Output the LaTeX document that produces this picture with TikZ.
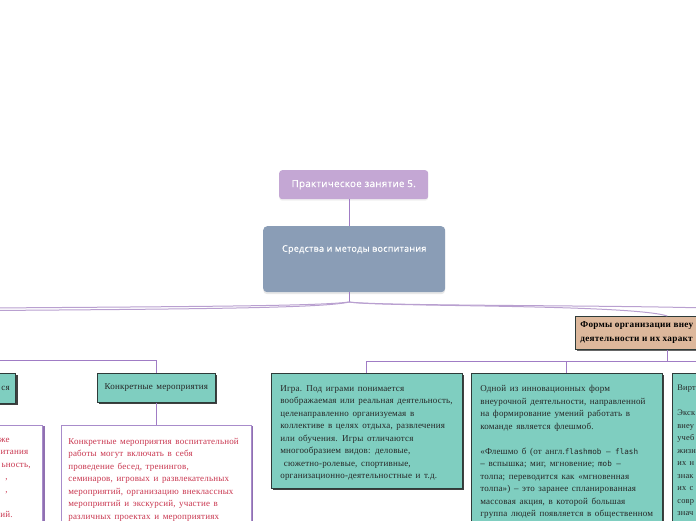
\documentclass[tikz,border=0pt]{standalone}
\usepackage{fontspec}
\setmainfont{Liberation Serif}
\newfontfamily\boxfont[LetterSpace=2,WordSpace=1.5]{Liberation Serif}
\newfontfamily\headfont[LetterSpace=3,FakeBold=0.4]{Open Sans}
\newfontfamily\formsfont[LetterSpace=3]{Liberation Serif}
\newfontfamily\latinfont{DejaVu Sans Mono}
\usetikzlibrary{shadows,calc}
\definecolor{lilac}{HTML}{C4A7D4}
\definecolor{slate}{HTML}{8A9DB6}
\definecolor{tealfill}{HTML}{7FCEC0}
\definecolor{tealline}{HTML}{2E3B39}
\definecolor{tanfill}{HTML}{DDB89C}
\definecolor{wireline}{HTML}{A07CC5}
\definecolor{curveline}{HTML}{B9A0D0}
\definecolor{boxline}{HTML}{A88CCB}
\definecolor{crimson}{HTML}{C9364F}
\tikzset{
  lilacbox/.style={fill=lilac, rounded corners=3pt, text=white, inner sep=0pt,
    font=\headfont\fontsize{9.8}{11}\selectfont,
    drop shadow={opacity=0.12, shadow xshift=0pt, shadow yshift=-1.5pt}},
  slatebox/.style={fill=slate, rounded corners=4pt, text=white, inner sep=0pt,
    font=\headfont\fontsize{9}{11}\selectfont,
    drop shadow={opacity=0.18, shadow xshift=0pt, shadow yshift=-2pt}},
  tealbox/.style={fill=tealfill, draw=tealline, line width=0.7pt, inner sep=0pt,
    font=\boxfont\fontsize{9}{12.5}\selectfont, text=black!85,
    drop shadow={fill=black, opacity=0.75, shadow xshift=2pt, shadow yshift=-2pt}},
  formsbox/.style={fill=tanfill, draw=tealline, line width=0.7pt, inner sep=0pt,
    font=\formsfont\bfseries\fontsize{9.2}{14}\selectfont, text=black,
    drop shadow={fill=black, opacity=0.6, shadow xshift=2pt, shadow yshift=-2pt}},
  whitebox/.style={fill=white, draw=boxline, line width=0.7pt, inner sep=0pt,
    font=\boxfont\fontsize{9}{12.5}\selectfont, text=crimson,
    drop shadow={fill=wireline!90!black, opacity=1, shadow xshift=2pt, shadow yshift=-1pt}},
  wire/.style={draw=wireline, line width=0.8pt},
  bigcurve/.style={draw=curveline, line width=1pt},
}
\newcommand{\latinbit}[1]{{\latinfont\fontsize{7.6}{12.5}\selectfont #1}}
\begin{document}
\begin{tikzpicture}[x=1pt,y=-1pt]
\useasboundingbox (0,0) rectangle (696,520);

% central nodes
\node[lilacbox, anchor=north west, minimum width=149pt, minimum height=29pt] (top) at (279,170) {Практическое занятие 5.};
\node[slatebox, anchor=north west] (mid) at (263,226)
  {\parbox[c][66pt][t]{182pt}{\centering\vspace*{19pt}Средства и методы воспитания}};
\coordinate (hub) at (349,302);
\draw[wire] (hub |- top.south) -- (hub |- mid.north);
\draw[wire] (hub |- mid.south) -- (hub);

% forms node
\node[formsbox, anchor=north west] (forms) at (575,316)
  {\parbox[c][33pt][t]{184pt}{\vspace*{5pt}\hspace*{5pt}Формы организации внеу\\\hspace*{5pt}деятельности и их характ}};

% big curves
\coordinate (offleftA) at (-10,308);
\coordinate (offleftB) at (-10,310.5);
\coordinate (offright) at (706,308);
\draw[bigcurve] (hub) .. controls (320,306) and (200,306.5) .. (offleftA);
\draw[bigcurve] (hub) .. controls (325,308) and (200,309) .. (offleftB);
\draw[bigcurve] (hub) .. controls (380,306) and (600,305) .. (offright);
\draw[bigcurve] (hub) .. controls (380,307) and (630,304) .. (forms.north);

% left branch
\node[tealbox, anchor=north east, minimum height=30pt, text width=80pt, align=right] (sya) at (16,373) {ся\kern6pt};
\node[tealbox, anchor=north west, minimum width=118pt, minimum height=29pt] (konkr) at (97,373) {Конкретные мероприятия};
\coordinate (offbusleft) at (-10,360.5);
\draw[wire] (offbusleft) -| (konkr.north);

\node[whitebox, anchor=north east] (wleft) at (43,425)
  {\parbox[c][120pt][t]{180pt}{\raggedleft\vspace*{12.5pt}%
   же\kern33pt\\
   итания\kern14.5pt\\
   ьность,\kern12pt\\
   ,\kern35pt\\
   ,\kern35pt\\
   \mbox{}\\
   ий.\kern30pt}};
\node[whitebox, anchor=north west] (wmid) at (61,425)
  {\parbox[c][120pt][t]{190pt}{\raggedright\vspace*{12.5pt}\hspace*{7pt}%
   \parbox[t]{182pt}{\raggedright
   Конкретные мероприятия воспитательной\\
   работы могут включать в себя\\
   проведение бесед, тренингов,\\
   семинаров, игровых и развлекательных\\
   мероприятий, организацию внеклассных\\
   мероприятий и экскурсий, участие в\\
   различных проектах и мероприятиях}}};
\draw[wire] (konkr.south) -- (wmid.north -| konkr.south);

% right branch
\node[tealbox, anchor=north west] (igra) at (271,373)
  {\parbox[c][115pt][t]{191pt}{\vspace*{12pt}\hspace*{9pt}\parbox[t]{182pt}{\raggedright
   Игра. Под играми понимается\\
   воображаемая или реальная деятельность,\\
   целенаправленно организуемая в\\
   коллективе в целях отдыха, развлечения\\
   или обучения. Игры отличаются\\
   многообразием видов: деловые,\\
   \ сюжетно-ролевые, спортивные,\\
   организационно-деятельностные и т.д.}}};
\node[tealbox, anchor=north west] (odnoy) at (471,373)
  {\parbox[c][170pt][t]{191pt}{\vspace*{12pt}\hspace*{9pt}\parbox[t]{182pt}{\raggedright
   Одной из инновационных форм\\
   внеурочной деятельности, направленной\\
   на формирование умений работать в\\
   команде является флешмоб.\\
   \mbox{}\\
   «Флешмо б (от англ.\latinbit{flashmob – flash}\\
   \latinbit{–} вспышка; миг, мгновение; \latinbit{mob –}\\
   толпа; переводится как «мгновенная\\
   толпа») – это заранее спланированная\\
   массовая акция, в которой большая\\
   группа людей появляется в общественном}}};
\node[tealbox, anchor=north west] (virt) at (672,373)
  {\parbox[c][170pt][t]{191pt}{\vspace*{12pt}\hspace*{5pt}\parbox[t]{182pt}{\raggedright\fontsize{8.4}{12.5}\selectfont
   Вирт\\
   \mbox{}\\
   Экск\\
   внеу\\
   учеб\\
   жизн\\
   их н\\
   знак\\
   их с\\
   совр\\
   знач}}};
\coordinate (bus) at ($(forms.south)+(0,12)$);
\draw[wire] (forms.south) -- (bus);
\draw[wire] (igra.north) |- (bus) -| (virt.north);
\draw[wire] (odnoy.north) -- (odnoy.north |- bus);
\end{tikzpicture}
\end{document}
